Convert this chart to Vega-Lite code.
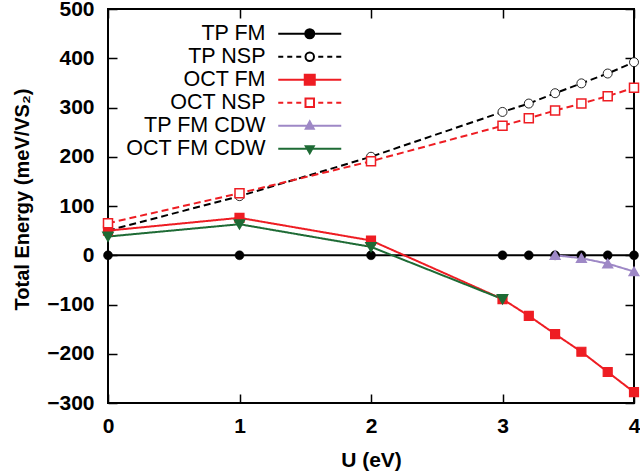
{
  "$schema": "https://vega.github.io/schema/vega-lite/v6.json",
  "width": 526,
  "height": 394,
  "autosize": {"type": "none"},
  "padding": {"left": 108, "top": 9, "right": 6, "bottom": 71},
  "background": "white",
  "config": {
    "view": {"stroke": "black", "strokeWidth": 2},
    "font": "Liberation Sans",
    "axis": {
      "domain": false,
      "grid": false,
      "tickColor": "black",
      "tickSize": -9,
      "tickWidth": 1.5,
      "labelFont": "Liberation Sans",
      "labelFontSize": 21,
      "labelFontWeight": "bold",
      "labelColor": "black",
      "labelFlush": false,
      "labelOverlap": false,
      "titleFont": "Liberation Sans",
      "titleFontSize": 21,
      "titleFontWeight": "bold",
      "titleColor": "black"
    }
  },
  "data": {
    "values": [
      {"series": "TP FM", "U": 0, "E": 0},
      {"series": "TP FM", "U": 1, "E": 0},
      {"series": "TP FM", "U": 2, "E": 0},
      {"series": "TP FM", "U": 3, "E": 0},
      {"series": "TP FM", "U": 3.2, "E": 0},
      {"series": "TP FM", "U": 3.4, "E": 0},
      {"series": "TP FM", "U": 3.6, "E": 0},
      {"series": "TP FM", "U": 3.8, "E": 0},
      {"series": "TP FM", "U": 4, "E": 0},
      {"series": "TP NSP", "U": 0, "E": 50},
      {"series": "TP NSP", "U": 1, "E": 120},
      {"series": "TP NSP", "U": 2, "E": 200},
      {"series": "TP NSP", "U": 3, "E": 291},
      {"series": "TP NSP", "U": 3.2, "E": 308},
      {"series": "TP NSP", "U": 3.4, "E": 329},
      {"series": "TP NSP", "U": 3.6, "E": 349},
      {"series": "TP NSP", "U": 3.8, "E": 369},
      {"series": "TP NSP", "U": 4, "E": 392},
      {"series": "OCT FM", "U": 0, "E": 50},
      {"series": "OCT FM", "U": 1, "E": 76},
      {"series": "OCT FM", "U": 2, "E": 30},
      {"series": "OCT FM", "U": 3, "E": -89},
      {"series": "OCT FM", "U": 3.2, "E": -123},
      {"series": "OCT FM", "U": 3.4, "E": -160},
      {"series": "OCT FM", "U": 3.6, "E": -196},
      {"series": "OCT FM", "U": 3.8, "E": -237},
      {"series": "OCT FM", "U": 4, "E": -278},
      {"series": "OCT NSP", "U": 0, "E": 65},
      {"series": "OCT NSP", "U": 1, "E": 126},
      {"series": "OCT NSP", "U": 2, "E": 191},
      {"series": "OCT NSP", "U": 3, "E": 263},
      {"series": "OCT NSP", "U": 3.2, "E": 278},
      {"series": "OCT NSP", "U": 3.4, "E": 294},
      {"series": "OCT NSP", "U": 3.6, "E": 308},
      {"series": "OCT NSP", "U": 3.8, "E": 323},
      {"series": "OCT NSP", "U": 4, "E": 340},
      {"series": "TP FM CDW", "U": 3.4, "E": 0},
      {"series": "TP FM CDW", "U": 3.6, "E": -6},
      {"series": "TP FM CDW", "U": 3.8, "E": -17},
      {"series": "TP FM CDW", "U": 4, "E": -33},
      {"series": "OCT FM CDW", "U": 0, "E": 38},
      {"series": "OCT FM CDW", "U": 1, "E": 63},
      {"series": "OCT FM CDW", "U": 2, "E": 17},
      {"series": "OCT FM CDW", "U": 3, "E": -89}
    ]
  },
  "resolve": {
    "scale": {"color": "independent", "fill": "independent", "shape": "independent", "strokeDash": "independent", "strokeWidth": "independent", "size": "independent"},
    "axis": {"x": "independent", "y": "independent"},
    "legend": {"color": "independent", "shape": "independent", "fill": "independent", "strokeDash": "independent", "strokeWidth": "independent", "size": "independent"}
  },
  "layer": [
    {
      "mark": {"type": "line", "clip": false},
      "encoding": {
        "x": {"field": "U", "type": "quantitative", "scale": {"domain": [0, 4], "nice": false, "zero": false},
              "axis": {"orient": "bottom", "values": [0, 1, 2, 3, 4], "title": "U (eV)", "labelPadding": 21, "titleBaseline": "alphabetic", "titleY": 63}},
        "y": {"field": "E", "type": "quantitative", "scale": {"domain": [-300, 500], "nice": false, "zero": false},
              "axis": {"orient": "left", "values": [-300, -200, -100, 0, 100, 200, 300, 400, 500], "title": "Total Energy (meV/VS₂)", "labelPadding": 23, "titleFontSize": 20, "titleBaseline": "alphabetic", "titleAngle": 270, "titleAlign": "center", "titleX": -80, "titleY": 190}},
        "color": {"field": "series", "type": "nominal", "legend": null,
                  "scale": {"domain": ["TP FM", "TP NSP", "OCT FM", "OCT NSP", "TP FM CDW", "OCT FM CDW"],
                            "range": ["#000000", "#000000", "#ee1d23", "#ee1d23", "#9e88c6", "#1e6b35"]}},
        "strokeDash": {"field": "series", "type": "nominal", "legend": null,
                       "scale": {"domain": ["TP FM", "TP NSP", "OCT FM", "OCT NSP", "TP FM CDW", "OCT FM CDW"],
                                 "range": [[1, 0], [7, 4], [1, 0], [7, 4], [1, 0], [1, 0]]}},
        "strokeWidth": {"field": "series", "type": "nominal", "legend": null,
                        "scale": {"domain": ["TP FM", "TP NSP", "OCT FM", "OCT NSP", "TP FM CDW", "OCT FM CDW"],
                                  "range": [2, 2, 2.5, 2, 1.2, 1.2]}}
      }
    },
    {
      "mark": {"type": "point", "clip": false, "opacity": 1},
      "encoding": {
        "x": {"field": "U", "type": "quantitative", "scale": {"domain": [0, 4], "nice": false, "zero": false},
              "axis": {"orient": "top", "values": [0, 1, 2, 3, 4], "labels": false, "title": null}},
        "y": {"field": "E", "type": "quantitative", "scale": {"domain": [-300, 500], "nice": false, "zero": false},
              "axis": {"orient": "right", "values": [-300, -200, -100, 0, 100, 200, 300, 400, 500], "labels": false, "title": null}},
        "color": {"field": "series", "type": "nominal", "legend": null,
                  "scale": {"domain": ["TP FM", "TP NSP", "OCT FM", "OCT NSP", "TP FM CDW", "OCT FM CDW"],
                            "range": ["#000000", "#000000", "#ee1d23", "#ee1d23", "#9e88c6", "#1e6b35"]}},
        "fill": {"field": "series", "type": "nominal", "legend": null,
                 "scale": {"domain": ["TP FM", "TP NSP", "OCT FM", "OCT NSP", "TP FM CDW", "OCT FM CDW"],
                           "range": ["#000000", "#ffffff", "#ee1d23", "#ffffff", "#9e88c6", "#1e6b35"]}},
        "shape": {"field": "series", "type": "nominal", "legend": null,
                  "scale": {"domain": ["TP FM", "TP NSP", "OCT FM", "OCT NSP", "TP FM CDW", "OCT FM CDW"],
                            "range": ["circle", "circle", "square", "square", "triangle-up", "triangle-down"]}},
        "size": {"field": "series", "type": "nominal", "legend": null,
                 "scale": {"domain": ["TP FM", "TP NSP", "OCT FM", "OCT NSP", "TP FM CDW", "OCT FM CDW"],
                           "range": [81, 81, 100, 72, 81, 81]}},
        "strokeWidth": {"field": "series", "type": "nominal", "legend": null,
                        "scale": {"domain": ["TP FM", "TP NSP", "OCT FM", "OCT NSP", "TP FM CDW", "OCT FM CDW"],
                                  "range": [0.5, 2.2, 0.5, 2.2, 0.5, 0.5]}}
      }
    },
    {
      "mark": {"type": "point", "clip": false, "opacity": 0, "size": 100},
      "encoding": {
        "x": {"field": "U", "type": "quantitative", "scale": {"domain": [0, 4], "nice": false, "zero": false}, "axis": null},
        "y": {"field": "E", "type": "quantitative", "scale": {"domain": [-300, 500], "nice": false, "zero": false}, "axis": null},
        "color": {"field": "series", "type": "nominal",
                  "scale": {"domain": ["TP FM", "TP NSP", "OCT FM", "OCT NSP", "TP FM CDW", "OCT FM CDW"],
                            "range": ["#000000", "#000000", "#ee1d23", "#ee1d23", "#9e88c6", "#1e6b35"]},
                  "legend": {"title": null, "orient": "none", "legendX": 191, "legendY": 14, "direction": "vertical",
                             "padding": 0, "rowPadding": 0, "symbolSize": 100, "symbolOpacity": 1,
                             "labelAlign": "right", "labelOffset": -55, "labelFontSize": 21.5, "labelFont": "Liberation Sans",
                             "labelColor": "black", "labelLimit": 300}},
        "fill": {"field": "series", "type": "nominal",
                 "scale": {"domain": ["TP FM", "TP NSP", "OCT FM", "OCT NSP", "TP FM CDW", "OCT FM CDW"],
                           "range": ["#000000", "#ffffff", "#ee1d23", "#ffffff", "#9e88c6", "#1e6b35"]},
                 "legend": {"title": null, "orient": "none", "legendX": 191, "legendY": 14, "direction": "vertical",
                            "padding": 0, "rowPadding": 0, "symbolSize": 100, "symbolOpacity": 1,
                            "labelAlign": "right", "labelOffset": -55, "labelFontSize": 21.5, "labelFont": "Liberation Sans",
                            "labelColor": "black", "labelLimit": 300}},
        "shape": {"field": "series", "type": "nominal",
                  "scale": {"domain": ["TP FM", "TP NSP", "OCT FM", "OCT NSP", "TP FM CDW", "OCT FM CDW"],
                            "range": [
                              "M-6.3,0H-0.9M0.9,0H6.3M-0.9,0A0.9,0.9,0,1,1,0.9,0A0.9,0.9,0,1,1,-0.9,0Z",
                              "M-6.3,0H-5.3M-4.5,0H-3.5M-2.7,0H-1.7M1.7,0H2.7M3.5,0H4.5M5.3,0H6.3M-0.85,0A0.85,0.85,0,1,1,0.85,0A0.85,0.85,0,1,1,-0.85,0Z",
                              "M-6.3,0H-1M1,0H6.3M-1,-1H1V1H-1Z",
                              "M-6.3,0H-5.3M-4.5,0H-3.5M-2.7,0H-1.7M1.7,0H2.7M3.5,0H4.5M5.3,0H6.3M-0.85,-0.85H0.85V0.85H-0.85Z",
                              "M-6.3,0H6.3M-0.8,0.6L0.8,0.6L0,-0.9Z",
                              "M-6.3,0H6.3M-0.8,-0.5L0.8,-0.5L0,0.9Z"
                            ]},
                  "legend": {"title": null, "orient": "none", "legendX": 191, "legendY": 14, "direction": "vertical",
                             "padding": 0, "rowPadding": 0, "symbolSize": 100, "symbolOpacity": 1,
                             "labelAlign": "right", "labelOffset": -55, "labelFontSize": 21.5, "labelFont": "Liberation Sans",
                             "labelColor": "black", "labelLimit": 300}},
        "strokeWidth": {"field": "series", "type": "nominal",
                        "scale": {"domain": ["TP FM", "TP NSP", "OCT FM", "OCT NSP", "TP FM CDW", "OCT FM CDW"],
                                  "range": [2, 2, 2.5, 2, 1.2, 1.2]},
                        "legend": {"title": null, "orient": "none", "legendX": 191, "legendY": 14, "direction": "vertical",
                                   "padding": 0, "rowPadding": 0, "symbolSize": 100, "symbolOpacity": 1,
                                   "labelAlign": "right", "labelOffset": -55, "labelFontSize": 21.5, "labelFont": "Liberation Sans",
                                   "labelColor": "black", "labelLimit": 300}}
      }
    }
  ]
}
